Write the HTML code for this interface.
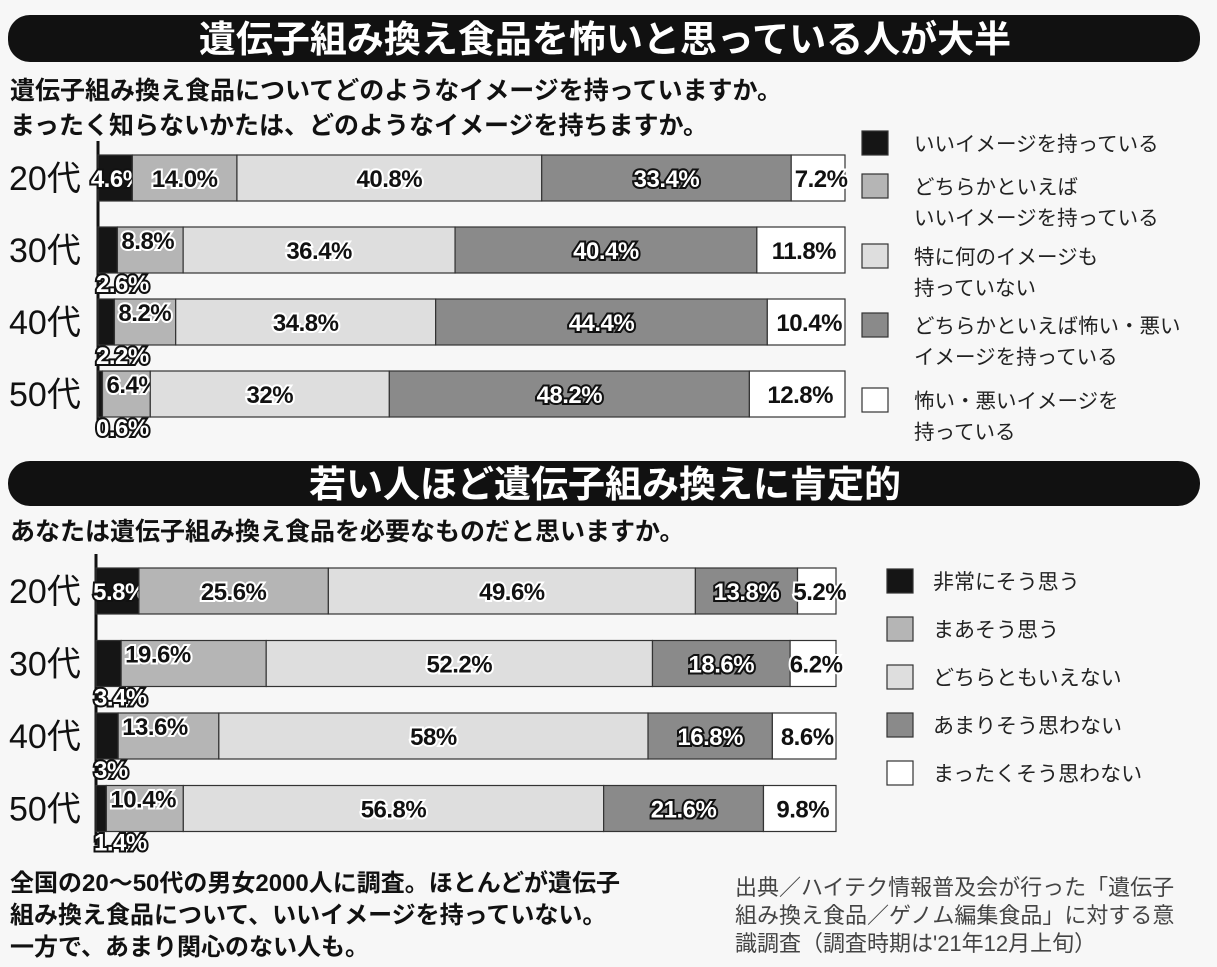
<!DOCTYPE html>
<html><head><meta charset="utf-8">
<style>
body{margin:0;background:#f7f7f7;}
svg{display:block;font-family:"Liberation Sans","Noto Sans CJK JP",sans-serif;}
</style></head>
<body>
<svg id="s" width="1217" height="967" viewBox="0 0 1217 967">
<rect x="0" y="0" width="1217" height="967" fill="#f7f7f7"/>
<rect x="8" y="15" width="1192" height="47" rx="22" fill="#111"/>
<text x="605" y="52" text-anchor="middle" font-size="37" font-weight="bold" fill="#fff">遺伝子組み換え食品を怖いと思っている人が大半</text>
<text x="10" y="99" font-size="25" font-weight="bold" fill="#111">遺伝子組み換え食品についてどのようなイメージを持っていますか。</text>
<text x="10" y="134" font-size="25" font-weight="bold" fill="#111">まったく知らないかたは、どのようなイメージを持ちますか。</text>
<rect x="8" y="461" width="1192" height="45" rx="22" fill="#111"/>
<text x="605" y="497" text-anchor="middle" font-size="37" font-weight="bold" fill="#fff">若い人ほど遺伝子組み換えに肯定的</text>
<text x="10" y="540" font-size="25" font-weight="bold" fill="#111">あなたは遺伝子組み換え食品を必要なものだと思いますか。</text>
<text x="10" y="891" font-size="24" font-weight="bold" fill="#111">全国の20～50代の男女2000人に調査。ほとんどが遺伝子</text>
<text x="10" y="923" font-size="24" font-weight="bold" fill="#111">組み換え食品について、いいイメージを持っていない。</text>
<text x="10" y="955" font-size="24" font-weight="bold" fill="#111">一方で、あまり関心のない人も。</text>
<text x="735" y="895" font-size="22" fill="#444">出典／ハイテク情報普及会が行った「遺伝子</text>
<text x="735" y="923" font-size="22" fill="#444">組み換え食品／ゲノム編集食品」に対する意</text>
<text x="735" y="951" font-size="22" fill="#444">識調査（調査時期は'21年12月上旬）</text>
</svg>
<script>
const ages = ["20代","30代","40代","50代"];
const colors = ["#151515","#b5b5b5","#dedede","#8a8a8a","#ffffff"];
const chart1Values = [[4.6,14.0,40.8,33.4,7.2],[2.6,8.8,36.4,40.4,11.8],[2.2,8.2,34.8,44.4,10.4],[0.6,6.4,32,48.2,12.8]];
const chart1Labels = [["4.6%","14.0%","40.8%","33.4%","7.2%"],["2.6%","8.8%","36.4%","40.4%","11.8%"],["2.2%","8.2%","34.8%","44.4%","10.4%"],["0.6%","6.4%","32%","48.2%","12.8%"]];
const chart2Values = [[5.8,25.6,49.6,13.8,5.2],[3.4,19.6,52.2,18.6,6.2],[3,13.6,58,16.8,8.6],[1.4,10.4,56.8,21.6,9.8]];
const chart2Labels = [["5.8%","25.6%","49.6%","13.8%","5.2%"],["3.4%","19.6%","52.2%","18.6%","6.2%"],["3%","13.6%","58%","16.8%","8.6%"],["1.4%","10.4%","56.8%","21.6%","9.8%"]];
const legend1 = [["いいイメージを持っている"],["どちらかといえば","いいイメージを持っている"],["特に何のイメージも","持っていない"],["どちらかといえば怖い・悪い","イメージを持っている"],["怖い・悪いイメージを","持っている"]];
const legend2 = [["非常にそう思う"],["まあそう思う"],["どちらともいえない"],["あまりそう思わない"],["まったくそう思わない"]];

const NS="http://www.w3.org/2000/svg";
const svg=document.getElementById('s');
function mk(tag,attrs,parent){const e=document.createElementNS(NS,tag);for(const k in attrs)e.setAttribute(k,attrs[k]);(parent||svg).appendChild(e);return e;}

function drawChart(id,vals,labels,x0,width,top,step,barH,legend,lx,ly,lfs,loff){
  const g=mk('g',{});
  
  
  const xs=v=>v*width/100;
  const ax=mk('line',{x1:x0,x2:x0,y1:top-14,y2:top+3*step+barH+14,stroke:'#111','stroke-width':3},g);
  
  
  vals.forEach((row,i)=>{
    const y=top+i*step;
    const at=mk('text',{x:9,y:y+barH/2+12,'font-size':34,fill:'#111'},g);
    at.textContent=ages[i];
    
    
    let x=x0;
    row.forEach((v,j)=>{
      const w=xs(v);
      const r=mk('rect',{x:x,y:y,width:w,height:barH,fill:colors[j],stroke:'#333','stroke-width':1.2},g);
      
      
      let tx=x+w/2, ty=y+barH/2+9, anchor='middle';
      const small=row[0]<4;
      if(j===0&&small){tx=x0-2;ty=y+barH+19;anchor='start';}
      else if(j===0){tx=x0+w/2+2;}
      else if(j===1&&small){tx=x+4;ty=y+22;anchor='start';}
      if(j===4){tx=x+w/2+3;}
      const outlined=(j===0||j===3);
      const t=mk('text',{x:tx,y:ty,'text-anchor':anchor,'font-size':24,'font-weight':'bold',fill:outlined?'#fff':'#111',stroke:outlined?'#111':'#fff','stroke-width':4,'paint-order':'stroke','letter-spacing':-0.5},g);
      t.textContent=labels[i][j];
      
      
      x+=w;
    });
  });
  legend.forEach((lines,k)=>{
    const y=ly[k];
    const sq=mk('rect',{x:lx,y:y,width:26,height:24,fill:colors[k],stroke:'#333','stroke-width':1.2},g);
    
    
    lines.forEach((ln,m)=>{
      const t=mk('text',{x:lx+loff,y:y+20+m*31,'font-size':lfs,fill:'#222'},g);
      t.textContent=ln;
      
      
    });
  });
}
drawChart('chart-image',chart1Values,chart1Labels,98,747,155,72,46,legend1,862,[131,174,244,313,388],20.5,52);
drawChart('chart-necessity',chart2Values,chart2Labels,96,740,568,72.5,46,legend2,887,[569,617,665,713,761],21,46);
</script>
</body></html>
